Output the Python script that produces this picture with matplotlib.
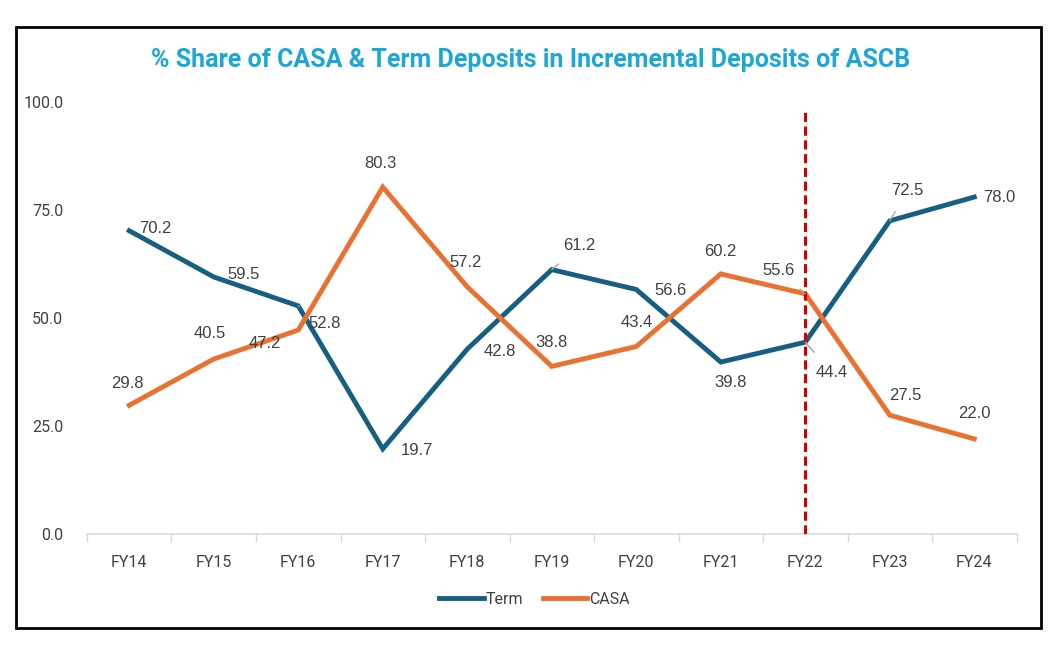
import matplotlib.pyplot as plt
from matplotlib.lines import Line2D
from matplotlib.patches import Rectangle
import numpy as np

years = ["FY14", "FY15", "FY16", "FY17", "FY18", "FY19", "FY20", "FY21", "FY22", "FY23", "FY24"]
term = [70.2, 59.5, 52.8, 19.7, 42.8, 61.2, 56.6, 39.8, 44.4, 72.5, 78.0]
casa = [29.8, 40.5, 47.2, 80.3, 57.2, 38.8, 43.4, 60.2, 55.6, 27.5, 22.0]
yticks = [0, 25, 50, 75, 100]
marker_year = "FY22"

# label offsets in pixels (dx, dy), and whether a leader line is drawn
term_offsets = [(26, 2, False), (30, 2, False), (26, -18, True), (34, -2, False), (33, -2, False),
                (28, 24, True), (34, -1, False), (10, -20, False), (26, -30, True), (18, 30, True),
                (25, 0, False)]
casa_offsets = [(-2, 22, False), (-4, 26, False), (-33, -13, False), (-2, 24, False), (-2, 24, False),
                (0, 24, False), (0, 24, False), (0, 22, False), (-27, 23, True), (16, 20, False),
                (0, 25, False)]

TERM_C = "#156082"
CASA_C = "#E97132"
TXT = "#404040"
tick_font = ["Roboto", "DejaVu Sans"]

fig = plt.figure(figsize=(10.48, 6.46), dpi=100)
ax = fig.add_axes([0.083, 0.1734, 0.887, 0.6687])

x = np.arange(len(years))
ax.plot(x, term, color=TERM_C, lw=3.5, solid_joinstyle="miter", zorder=3)
ax.plot(x, casa, color=CASA_C, lw=3.5, solid_joinstyle="miter", zorder=3)

xi = years.index(marker_year)
ax.plot([xi, xi], [0, 98.5], color="#D00000", lw=2.2, ls=(0, (3, 1.5)), zorder=4)

for series, offs in ((term, term_offsets), (casa, casa_offsets)):
    for i, v in enumerate(series):
        dx, dy, lead = offs[i]
        ax.annotate(f"{v:.1f}", xy=(i, v), xytext=(dx, dy), textcoords="offset pixels",
                    ha="center", va="center", fontsize=12, color=TXT,
                    family="Liberation Sans", zorder=5,
                    arrowprops=dict(arrowstyle="-", color="#A6A6A6", lw=1,
                                    shrinkA=9, shrinkB=0) if lead else None)

ax.set_xlim(-0.5, len(years) - 0.5)
ax.set_ylim(0, 100)
ax.set_yticks(yticks)
ax.set_yticklabels([f"{t:.1f}" for t in yticks], family=tick_font, fontsize=11.5, color=TXT)
ax.tick_params(axis="y", length=0, pad=17)
ax.set_xticks(x)
ax.set_xticklabels(years, family=tick_font, fontsize=11.5, color=TXT)
ax.set_xticks(np.arange(-0.5, len(years), 1), minor=True)
ax.tick_params(axis="x", which="major", length=0, pad=15)
ax.tick_params(axis="x", which="minor", length=6, color="#D9D9D9", width=1)
for s in ("top", "right", "left"):
    ax.spines[s].set_visible(False)
ax.spines["bottom"].set_color("#D9D9D9")
ax.spines["bottom"].set_linewidth(1.2)

fig.text(0.506, 0.907, "% Share of CASA & Term Deposits in Incremental Deposits of ASCB",
         ha="center", va="center", fontsize=18, fontweight="bold", color="#1BA8D8", family=tick_font)

handles = [Line2D([0], [0], color=TERM_C, lw=3.5), Line2D([0], [0], color=CASA_C, lw=3.5)]
fig.legend(handles, ["Term", "CASA"], loc="center", bbox_to_anchor=(0.51, 0.072), ncol=2,
           frameon=False, handlelength=2.8, handletextpad=0.1, columnspacing=1.2,
           prop={"family": tick_font, "size": 11.5}, labelcolor=TXT)

fig.patches.append(Rectangle((16 / 1048, 18 / 646), 1025 / 1048, 601 / 646, transform=fig.transFigure,
                             fill=False, edgecolor="black", lw=2))

fig.savefig("out.png", dpi=100)
